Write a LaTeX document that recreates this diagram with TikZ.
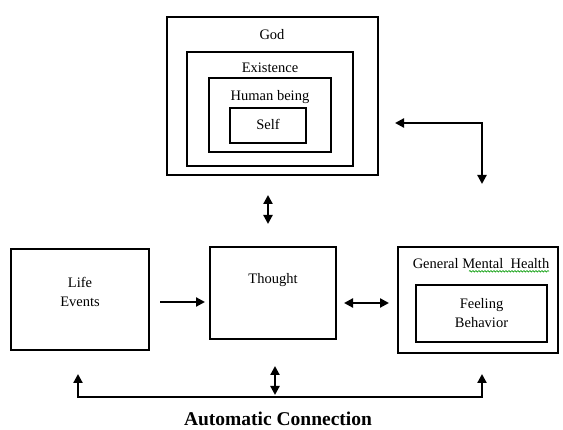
\documentclass[tikz,border=0pt]{standalone}
\usepackage{fontspec}
\setmainfont{Liberation Serif}
\usetikzlibrary{arrows.meta,decorations.pathmorphing}
\begin{document}
\begin{tikzpicture}[x=1pt,y=-1pt,
  box/.style={draw,line width=2.8pt,inner sep=0,outer sep=0,minimum width=#1},
  txt/.style={inner sep=0,font=\fontsize{14.5}{17}\selectfont},
  tip/.tip={Triangle[length=9pt,width=9pt]},
  arr/.style={line width=2.2pt,-tip},
  darr/.style={line width=2.2pt,tip-tip}]
\useasboundingbox (0,0) rectangle (563,430);
% nested boxes
\node[box=211pt,minimum height=158pt] (god) at (272.5,96) {};
\node[box=166pt,minimum height=114pt] (exist) at (270,109) {};
\node[box=122pt,minimum height=74pt] (human) at (270,115) {};
\node[box=76pt,minimum height=35pt] (self) at (268,125.5) {};
\node[txt] (godt) at (272,35) {God};
\node[txt] (existt) at (270,68) {Existence};
\node[txt] (humant) at (270,97) {Human being};
\node[txt] (selft) at (268,124) {Self};
% lower boxes
\node[box=138pt,minimum height=101pt] (life) at (80,299.5) {};
\node[txt,align=center] (lifet) at (80,292) {Life\\[2pt]Events};
\node[box=126pt,minimum height=92pt] (thought) at (273,293) {};
\node[txt] (thoughtt) at (273,280) {Thought};
\node[box=160pt,minimum height=106pt] (gmh) at (478,300) {};
\node[txt] (gmht) at (481,264) {General Mental\ \ Health};
\node[box=131pt,minimum height=57pt] (fb) at (481.5,313.5) {};
\node[txt,align=center] (fbt) at (481.5,313) {Feeling\\[2pt]Behavior};
\draw[green!60!black,line width=0.6pt,decorate,decoration={snake,amplitude=0.8pt,segment length=3pt}]
  ([xshift=-12pt,yshift=-2pt]gmht.south) -- ([xshift=68pt,yshift=-2pt]gmht.south);
% connectors
\draw[arr] ([xshift=11pt,yshift=-2.5pt]life.east) -- ([xshift=-5pt,yshift=-9pt]thought.west);
\draw[darr] ([xshift=8pt,yshift=-10pt]thought.east) -- ([xshift=-9pt,yshift=-3pt]gmh.west);
\coordinate (v1) at (268,195);
\coordinate (v2) at (268,224);
\draw[darr] (v1) -- (v2);
\coordinate (e1) at (395,123);
\coordinate (e2) at (482,123);
\coordinate (e3) at (482,184);
\draw[darr] (e1) -- (e2) -- (e3);
\coordinate (b1) at (78,374);
\coordinate (b2) at (78,397);
\coordinate (b3) at (482,397);
\coordinate (b4) at (482,374);
\draw[darr] (b1) -- (b2) -- (b3) -- (b4);
\coordinate (m1) at (275,366);
\coordinate (m2) at (275,395);
\draw[darr] (m1) -- (m2);
\node[inner sep=0,anchor=base,font=\fontsize{19.5}{22}\selectfont\bfseries] (auto) at (278,425.5) {Automatic Connection};
\end{tikzpicture}
\end{document}
